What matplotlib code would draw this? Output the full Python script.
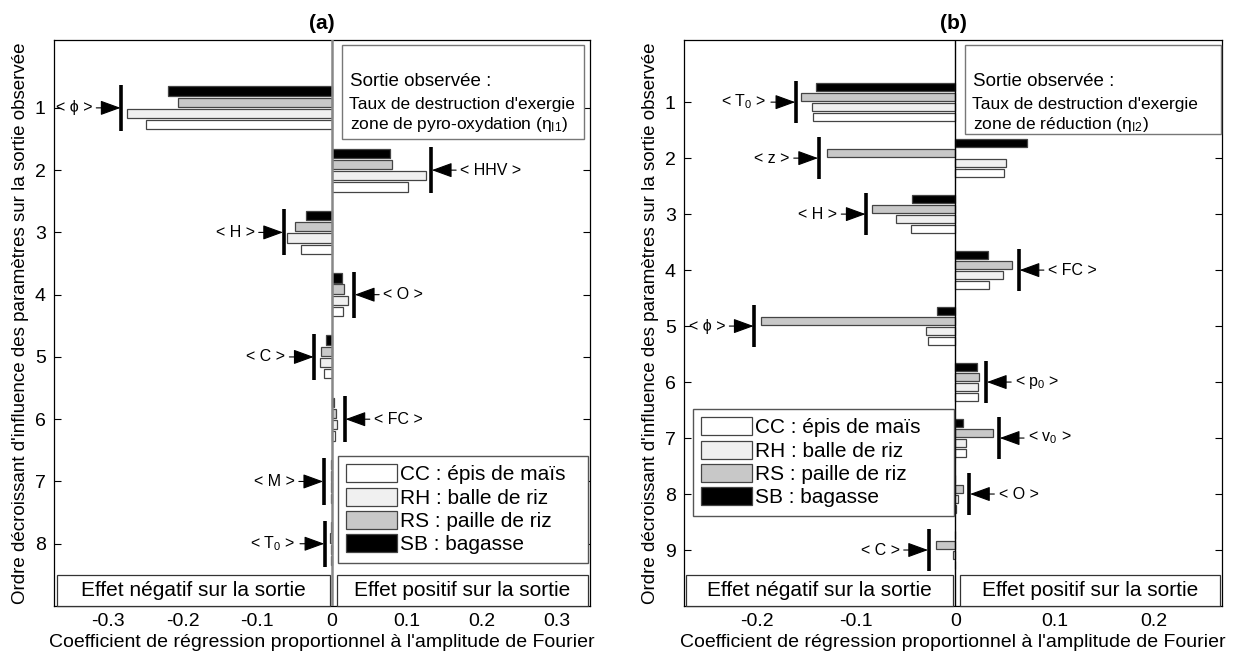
import matplotlib
matplotlib.use("Agg")
import matplotlib.pyplot as plt
from matplotlib.patches import Patch, Rectangle
import numpy as np

plt.rcParams['font.family'] = ['Liberation Sans', 'DejaVu Sans']
plt.rcParams['mathtext.fontset'] = 'custom'
plt.rcParams['mathtext.rm'] = 'Liberation Sans'
plt.rcParams['mathtext.it'] = 'Liberation Sans'

# ---- data (a) : zone de pyro-oxydation ----
a_labels = ['ϕ', 'HHV', 'H', 'O', 'C', 'FC', 'M', 'T$_0$']
a_CC = [-0.249, 0.101, -0.0415, 0.0147, -0.0103, 0.004, -0.002, -0.001]
a_RH = [-0.274, 0.126, -0.060, 0.0214, -0.0157, 0.006, -0.002, -0.001]
a_RS = [-0.206, 0.080, -0.0495, 0.0165, -0.0143, 0.005, -0.002, -0.003]
a_SB = [-0.2195, 0.077, -0.035, 0.013, -0.0084, 0.002, -0.002, -0.001]
a_mark = [-0.282, 0.1325, -0.0647, 0.0295, -0.0237, 0.017, -0.011, -0.0095]
a_xticks = [-0.3, -0.2, -0.1, 0, 0.1, 0.2, 0.3]
a_xticklabels = ['-0.3', '-0.2', '-0.1', '0', '0.1', '0.2', '0.3']

# ---- data (b) : zone de reduction ----
b_labels = ['T$_0$', 'z', 'H', 'FC', 'ϕ', 'p$_0$', 'v$_0$', 'O', 'C']
b_CC = [-0.144, 0.049, -0.045, 0.034, -0.028, 0.023, 0.011, 0.001, 0.0]
b_RH = [-0.145, 0.051, -0.060, 0.048, -0.030, 0.023, 0.011, 0.0025, -0.0025]
b_RS = [-0.156, -0.130, -0.084, 0.057, -0.196, 0.024, 0.038, 0.008, -0.0195]
b_SB = [-0.141, 0.072, -0.044, 0.033, -0.019, 0.022, 0.008, 0.0, 0.0]
b_mark = [-0.161, -0.138, -0.090, 0.064, -0.203, 0.031, 0.044, 0.014, -0.027]
b_xticks = [-0.2, -0.1, 0, 0.1, 0.2]
b_xticklabels = ['-0.2', '-0.1', '0', '0.1', '0.2']

series_names = ['CC : épis de maïs', 'RH : balle de riz', 'RS : paille de riz', 'SB : bagasse']
colors = ['white', '#f0f0f0', '#c8c8c8', 'black']
offsets = [0.27, 0.09, -0.09, -0.27]   # CC bottom ... SB top

W, H = 1234, 660
fig = plt.figure(figsize=(W / 100, H / 100), dpi=100)


def fx(x):
    return x / W


def fy(y):
    return 1 - y / H


def panel(ax_px, xlim, ylim, series, marks, labels, xticks, xticklabels,
          zero_color, zero_lw, title, sortie_px, zone_txt, leg_px, effet_px):
    x0, x1, y0, y1 = ax_px
    ax = fig.add_axes([fx(x0), fy(y1), fx(x1) - fx(x0), fy(y0) - fy(y1)])
    n = len(marks)
    pos = np.arange(1, n + 1)
    for vals, c, off in zip(series, colors, offsets):
        ax.barh(pos + off, vals, height=0.15, color=c, edgecolor='#444444', linewidth=0.9, zorder=3)
    ax.axvline(0, color=zero_color, lw=zero_lw, zorder=4)
    for yy, m, lab in zip(pos, marks, labels):
        ax.plot([m, m], [yy - 0.37, yy + 0.37], color='black', lw=2.6, zorder=5, solid_capstyle='butt')
        side = -1 if m < 0 else 1
        ax.annotate('< ' + lab + ' >', xy=(m, yy), xytext=(side * 21, 0), textcoords='offset points',
                    ha='left' if side > 0 else 'right', va='center', fontsize=11.5,
                    arrowprops=dict(arrowstyle='-|>,head_length=1.1,head_width=0.4', color='black',
                                    lw=0.8, shrinkA=1, shrinkB=0.5), zorder=6)
    ax.set_xlim(*xlim)
    ax.set_ylim(*ylim)
    ax.set_yticks(pos)
    ax.set_yticklabels([str(p) for p in pos], fontsize=14)
    ax.set_xticks(xticks)
    ax.set_xticklabels(xticklabels, fontsize=14)
    ax.tick_params(axis='y', direction='in', length=5, left=True, right=True, pad=6)
    ax.tick_params(axis='x', length=0, pad=5)
    for s in ax.spines.values():
        s.set_linewidth(0.9)
    ax.set_xlabel("Coefficient de régression proportionnel à l'amplitude de Fourier", fontsize=14, labelpad=3)
    ax.set_ylabel("Ordre décroissant d'influence des paramètres sur la sortie observée", fontsize=13.5, labelpad=4)
    ax.set_title(title, fontsize=15, fontweight='bold', pad=8)

    # boxed text "Sortie observee"
    sx0, sx1, sy0, sy1 = sortie_px
    fig.add_artist(Rectangle((fx(sx0), fy(sy1)), fx(sx1) - fx(sx0), fy(sy0) - fy(sy1),
                             transform=fig.transFigure, fc='white', ec='#777777', lw=1.0, zorder=10))
    fig.text(fx(sx0 + 8), fy(sy0 + 37), 'Sortie observée :', fontsize=13.5, va='center', zorder=11)
    fig.text(fx(sx0 + 7), fy(sy0 + 59), "Taux de destruction d'exergie", fontsize=12.5, va='center', zorder=11)
    fig.text(fx(sx0 + 8), fy(sy0 + 80), zone_txt, fontsize=12.5, va='center', zorder=11)

    # legend, box stretched to a fixed width
    lx0, lx1, ly0, ly1 = leg_px
    handles = [Patch(facecolor=c, edgecolor='#444444', lw=0.9) for c in colors]
    ax.legend(handles, series_names, loc='upper left', mode='expand',
              bbox_to_anchor=(fx(lx0), fy(ly1), fx(lx1) - fx(lx0), fy(ly0) - fy(ly1)),
              bbox_transform=fig.transFigure, fontsize=15, frameon=True, fancybox=False,
              edgecolor='#555555', framealpha=1, borderaxespad=0, handlelength=2.45,
              handleheight=0.95, handletextpad=0.12, labelspacing=0.15, borderpad=0.4)

    # effect boxes at the bottom
    for (bx0, bx1), txt in zip(effet_px, ['Effet négatif sur la sortie', 'Effet positif sur la sortie']):
        fig.add_artist(Rectangle((fx(bx0), fy(606)), fx(bx1) - fx(bx0), fy(575) - fy(606),
                                 transform=fig.transFigure, fc='white', ec='#333333', lw=0.9, zorder=10))
        fig.text(fx((bx0 + bx1) / 2), fy(590), txt, fontsize=15, ha='center', va='center', zorder=11)
    return ax


panel((54, 590, 40, 606), (-0.372, 0.345), (9.0, -0.09),
      [a_CC, a_RH, a_RS, a_SB], a_mark, a_labels, a_xticks, a_xticklabels,
      '#888888', 1.8, '(a)', (342, 584, 45, 139),
      r'zone de pyro-oxydation $(\eta_{\mathrm{I1}})$', (338, 588, 456, 566),
      [(57, 330), (337, 588)])

panel((684, 1222, 40, 606), (-0.274, 0.269), (10.0, -0.11),
      [b_CC, b_RH, b_RS, b_SB], b_mark, b_labels, b_xticks, b_xticklabels,
      'black', 1.0, '(b)', (965, 1221, 45, 134),
      r'zone de réduction $(\eta_{\mathrm{I2}})$', (693, 954, 409, 519),
      [(686, 953), (960, 1220)])

fig.savefig('out.png', dpi=100)
